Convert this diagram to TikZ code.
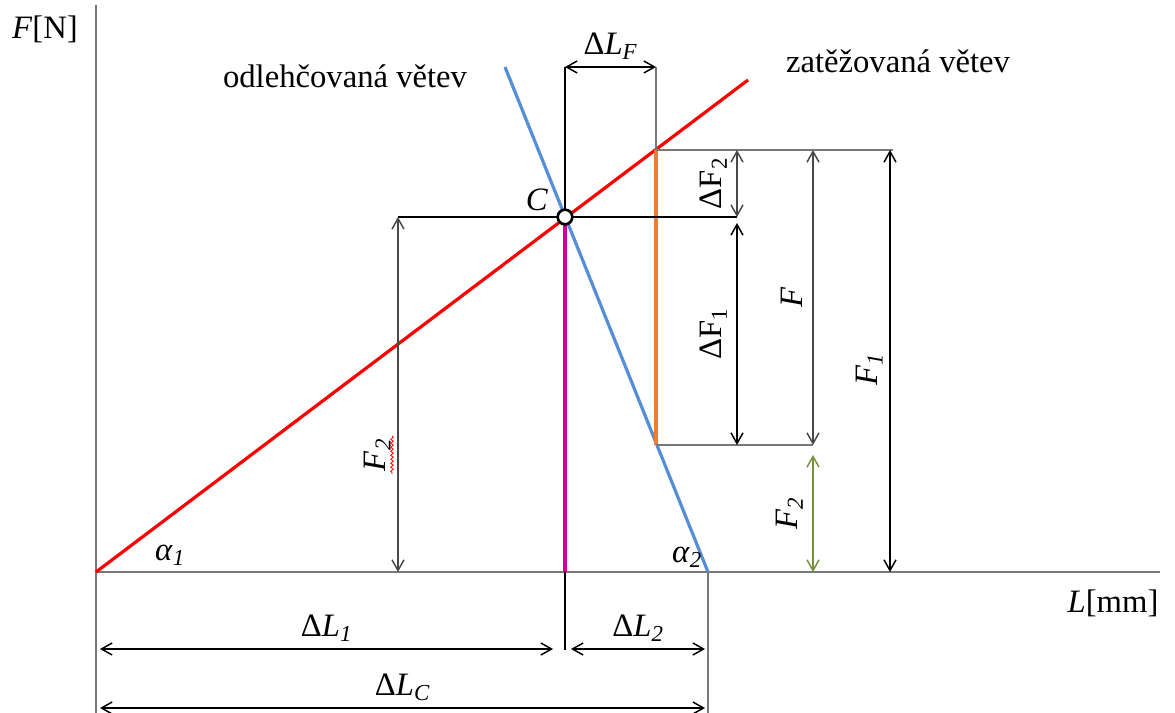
\documentclass[tikz,border=0pt]{standalone}
\usepackage{fontspec}
\setmainfont{Liberation Serif}
\usetikzlibrary{arrows.meta,decorations.pathmorphing}
\definecolor{loadred}{RGB}{255,0,0}
\definecolor{unloadblue}{RGB}{85,142,213}
\definecolor{springmag}{RGB}{204,0,153}
\definecolor{deltaorange}{RGB}{237,125,49}
\definecolor{olivegreen}{RGB}{118,146,60}
\definecolor{axisgray}{RGB}{120,120,120}
\newcommand{\itsub}[2]{\textit{#1}\textsubscript{\textit{#2}}}
\begin{document}
\begin{tikzpicture}[
	x=0.75pt, y=-0.75pt,
	axis/.style={ axisgray, line width=1.5pt },
	thin/.style={ black, line width=1.1pt },
	helper/.style={ axisgray, line width=1.5pt },
	branch/.style={ line width=2.4pt },
	dimarrow/.style={ line width=1.1pt, {Straight Barb[length=8pt,width=9pt]}-{Straight Barb[length=8pt,width=9pt]} },
	lbl/.style={ text=black, font=\fontsize{24.5}{26}\selectfont, inner sep=1pt },
	rlbl/.style={ lbl, rotate=90 }
]
\useasboundingbox (0,0) rectangle (1175,713);

% axes
\coordinate (O) at (96,572);
\coordinate (ytop) at (96,5);
\coordinate (ybot) at (96,713);
\coordinate (xend) at (1160,572);
\draw[axis] (ytop) -- (ybot);
\draw[axis] (O) -- (xend);
\node at (45,29) (Fax) [lbl] {\textit{F}[N]};
\node at (1113,603) (Lax) [lbl] {\textit{L}[mm]};

% branches
\coordinate (redend) at (748,80);
\coordinate (bluetop) at (505,67);
\coordinate (bluebot) at (708,572);
\coordinate (C) at (565,217);
\coordinate (Cbot) at (565,572);
\coordinate (P1) at (656,150);
\coordinate (P2) at (656,445);
\draw[branch, loadred] (O) -- (redend);
\draw[branch, unloadblue] (bluetop) -- (bluebot);
\draw[branch, springmag] (C) -- (Cbot);
\draw[branch, deltaorange] (P1) -- (P2);
\node at (345,76) (odl) [lbl] {odlehčovaná větev};
\node at (898,61) (zat) [lbl] {zatěžovaná větev};
\node at (170,555) (a1) [lbl] {\itsub{α}{1}};
\node at (687,557) (a2) [lbl] {\itsub{α}{2}};

% extension lines
\coordinate (LFleft) at (565,67);
\coordinate (LFright) at (656,67);
\coordinate (Cleft) at (398,217);
\coordinate (Cright) at (737,217);
\coordinate (P1right) at (893,150);
\coordinate (P2right) at (813,445);
\draw[thin] (LFleft) -- (C);
\draw[helper] (LFright) -- (P1);
\draw[thin] (Cleft) -- (Cright);
\draw[helper] (P1) -- (P1right);
\draw[helper] (P2) -- (P2right);

% deformation dimension
\draw[dimarrow] (LFleft) -- (LFright) node[lbl, midway, above=4pt] (dLF) {Δ\itsub{L}{F}};

% force dimensions
\draw[dimarrow, axisgray!60!black] (737,150) -- (Cright) node[rlbl, midway, above=6pt] (dF2) {ΔF\textsubscript{2}};
\draw[dimarrow] (737,223) -- (737,445) node[rlbl, midway, above=6pt] (dF1) {ΔF\textsubscript{1}};
\draw[dimarrow, axisgray!60!black] (813,150) -- (P2right) node[rlbl, midway, above=6pt] (Flbl) {\textit{F}};
\draw[dimarrow, olivegreen] (813,455) -- (813,572) node[rlbl, midway, above=6pt] (F2r) {\itsub{F}{2}};
\draw[dimarrow] (890,150) -- (890,572) node[rlbl, pos=0.52, above=4pt] (F1) {\itsub{F}{1}};
\draw[dimarrow, axisgray!60!black] (Cleft) -- (398,572) node[rlbl, pos=0.67, above=4pt] (F2l) {\itsub{F}{2}};
\draw[red, line width=0.6pt, decorate, decoration={snake, amplitude=1pt, segment length=3pt}] (392,436) -- (392,474);

% bottom dimensions
\coordinate (Ldim) at (565,650);
\coordinate (Rbot) at (708,713);
\draw[thin] (Cbot) -- (Ldim);
\draw[helper] (bluebot) -- (Rbot);
\draw[dimarrow] (100,649) -- (553,649) node[lbl, midway, above=4pt] (dL1) {Δ\itsub{L}{1}};
\draw[dimarrow] (571,649) -- (705,649) node[lbl, midway, above=4pt] (dL2) {Δ\itsub{L}{2}};
\draw[dimarrow] (100,708) -- (705,708) node[lbl, midway, above=4pt] (dLC) {Δ\itsub{L}{C}};

% point C
\node at (C) (Cpt) [circle, draw, line width=2pt, fill=white, inner sep=0pt, minimum size=11pt] {};
\node at (537,200) (Clbl) [lbl] {\textit{C}};
\end{tikzpicture}
\end{document}
